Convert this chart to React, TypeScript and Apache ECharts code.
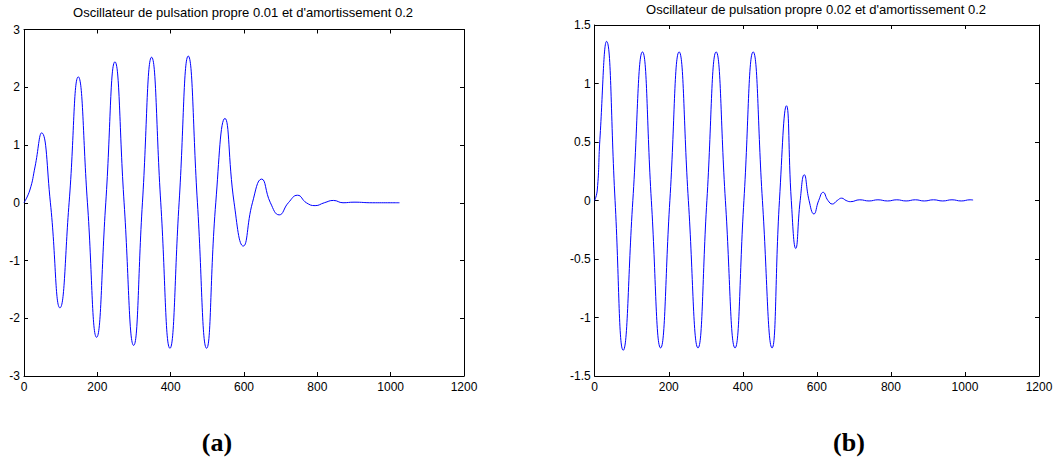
import React, { useEffect, useRef } from "react";
import * as echarts from "echarts";

const titleA = "Oscillateur de pulsation propre 0.01 et d'amortissement 0.2";
const titleB = "Oscillateur de pulsation propre 0.02 et d'amortissement 0.2";

const xA = [0, 16, 30, 48, 72, 98, 123, 148, 173, 198, 223, 248, 273, 299, 323, 348, 373, 398, 423, 448, 473, 498, 523, 548, 573, 598, 623, 648, 672, 696, 721, 746, 770, 794, 819, 844, 870, 900, 950, 1000, 1024];
const yA = [0, 0.22, 0.62, 1.21, 0, -1.82, 0, 2.18, 0, -2.33, 0, 2.44, 0, -2.47, 0, 2.52, 0, -2.52, 0, 2.54, 0, -2.52, 0, 1.46, 0, -0.75, 0, 0.41, 0, -0.21, 0, 0.13, 0, -0.05, 0, 0.04, 0, 0.01, 0, 0, 0];

const xB = [0, 7, 14, 32, 55, 77, 103, 129, 153, 178, 203, 228, 253, 279, 303, 328, 353, 379, 403, 428, 453, 479, 499, 518, 531, 543, 555, 566, 579, 592, 605, 617, 630, 642, 655, 667, 679, 691, 716, 741, 765, 791, 816, 841, 866, 890, 915, 940, 965, 990, 1014, 1022];
const yB = [0, 0.09, 0.52, 1.36, 0, -1.28, 0, 1.27, 0, -1.26, 0, 1.27, 0, -1.26, 0, 1.27, 0, -1.26, 0, 1.27, 0, -1.26, 0, 0.81, 0, -0.41, 0, 0.22, 0, -0.115, 0, 0.07, 0, -0.03, 0, 0.02, 0, -0.01, 0.006, -0.004, 0.006, -0.004, 0.006, -0.004, 0.006, -0.004, 0.006, -0.004, 0.006, -0.004, 0.006, 0.004];

const font = "Liberation Sans, Arial, Helvetica, sans-serif";

export default function App() {
  const ref = useRef<HTMLDivElement>(null);
  useEffect(() => {
    if (!ref.current) return;
    const chart = echarts.init(ref.current, undefined, { renderer: "svg" });
    const dataA = xA.map((x, i) => [x, yA[i]]);
    const dataB = xB.map((x, i) => [x, yB[i]]);
    const label = { show: true, color: "#000", fontSize: 12, fontFamily: font, formatter: (v: number) => String(v) };
    const common = {
      axisLine: { show: true, onZero: false, lineStyle: { color: "#000", width: 1 } },
      axisTick: { show: true, inside: true, length: 4, lineStyle: { color: "#000" } },
      splitLine: { show: false },
    };
    const grids = [
      { left: 24, right: 594, top: 29.5, bottom: 83 },
      { left: 594.7, right: 19, top: 25, bottom: 83 },
    ];
    const xAxis: any[] = [];
    const yAxis: any[] = [];
    [0, 1].forEach((g) => {
      xAxis.push({ ...common, gridIndex: g, type: "value", position: "bottom", min: 0, max: 1200, interval: 200, axisLabel: { ...label, margin: 5 } });
      xAxis.push({ ...common, gridIndex: g, type: "value", position: "top", min: 0, max: 1200, interval: 200, axisLabel: { show: false } });
      const ymin = g === 0 ? -3 : -1.5;
      const ymax = g === 0 ? 3 : 1.5;
      const yint = g === 0 ? 1 : 0.5;
      yAxis.push({ ...common, gridIndex: g, type: "value", position: "left", min: ymin, max: ymax, interval: yint, axisLabel: { ...label, margin: 4 } });
      yAxis.push({ ...common, gridIndex: g, type: "value", position: "right", min: ymin, max: ymax, interval: yint, axisLabel: { show: false } });
    });
    const titleStyle = { fontSize: 13, fontWeight: "normal", color: "#000", fontFamily: font };
    chart.setOption({
      animation: false,
      backgroundColor: "#fff",
      title: [
        { text: titleA, left: 243, top: 6, textAlign: "center", padding: 0, textStyle: titleStyle },
        { text: titleB, left: 816, top: 2.5, textAlign: "center", padding: 0, textStyle: titleStyle },
      ],
      grid: grids,
      xAxis,
      yAxis,
      series: [
        { type: "line", xAxisIndex: 0, yAxisIndex: 0, data: dataA, smooth: 0.5, showSymbol: false, lineStyle: { color: "#0000ff", width: 1 } },
        { type: "line", xAxisIndex: 2, yAxisIndex: 2, data: dataB, smooth: 0.5, showSymbol: false, lineStyle: { color: "#0000ff", width: 1 } },
      ],
      graphic: [
        { type: "text", x: 217, y: 442, style: { text: "(a)", font: "bold 26px 'Liberation Serif', 'Times New Roman', serif", fill: "#000", textAlign: "center", textVerticalAlign: "middle" } },
        { type: "text", x: 849, y: 442, style: { text: "(b)", font: "bold 26px 'Liberation Serif', 'Times New Roman', serif", fill: "#000", textAlign: "center", textVerticalAlign: "middle" } },
      ],
    });
    return () => chart.dispose();
  }, []);
  return <div ref={ref} style={{ position: "fixed", left: 0, top: 0, width: 1058, height: 459 }} />;
}
